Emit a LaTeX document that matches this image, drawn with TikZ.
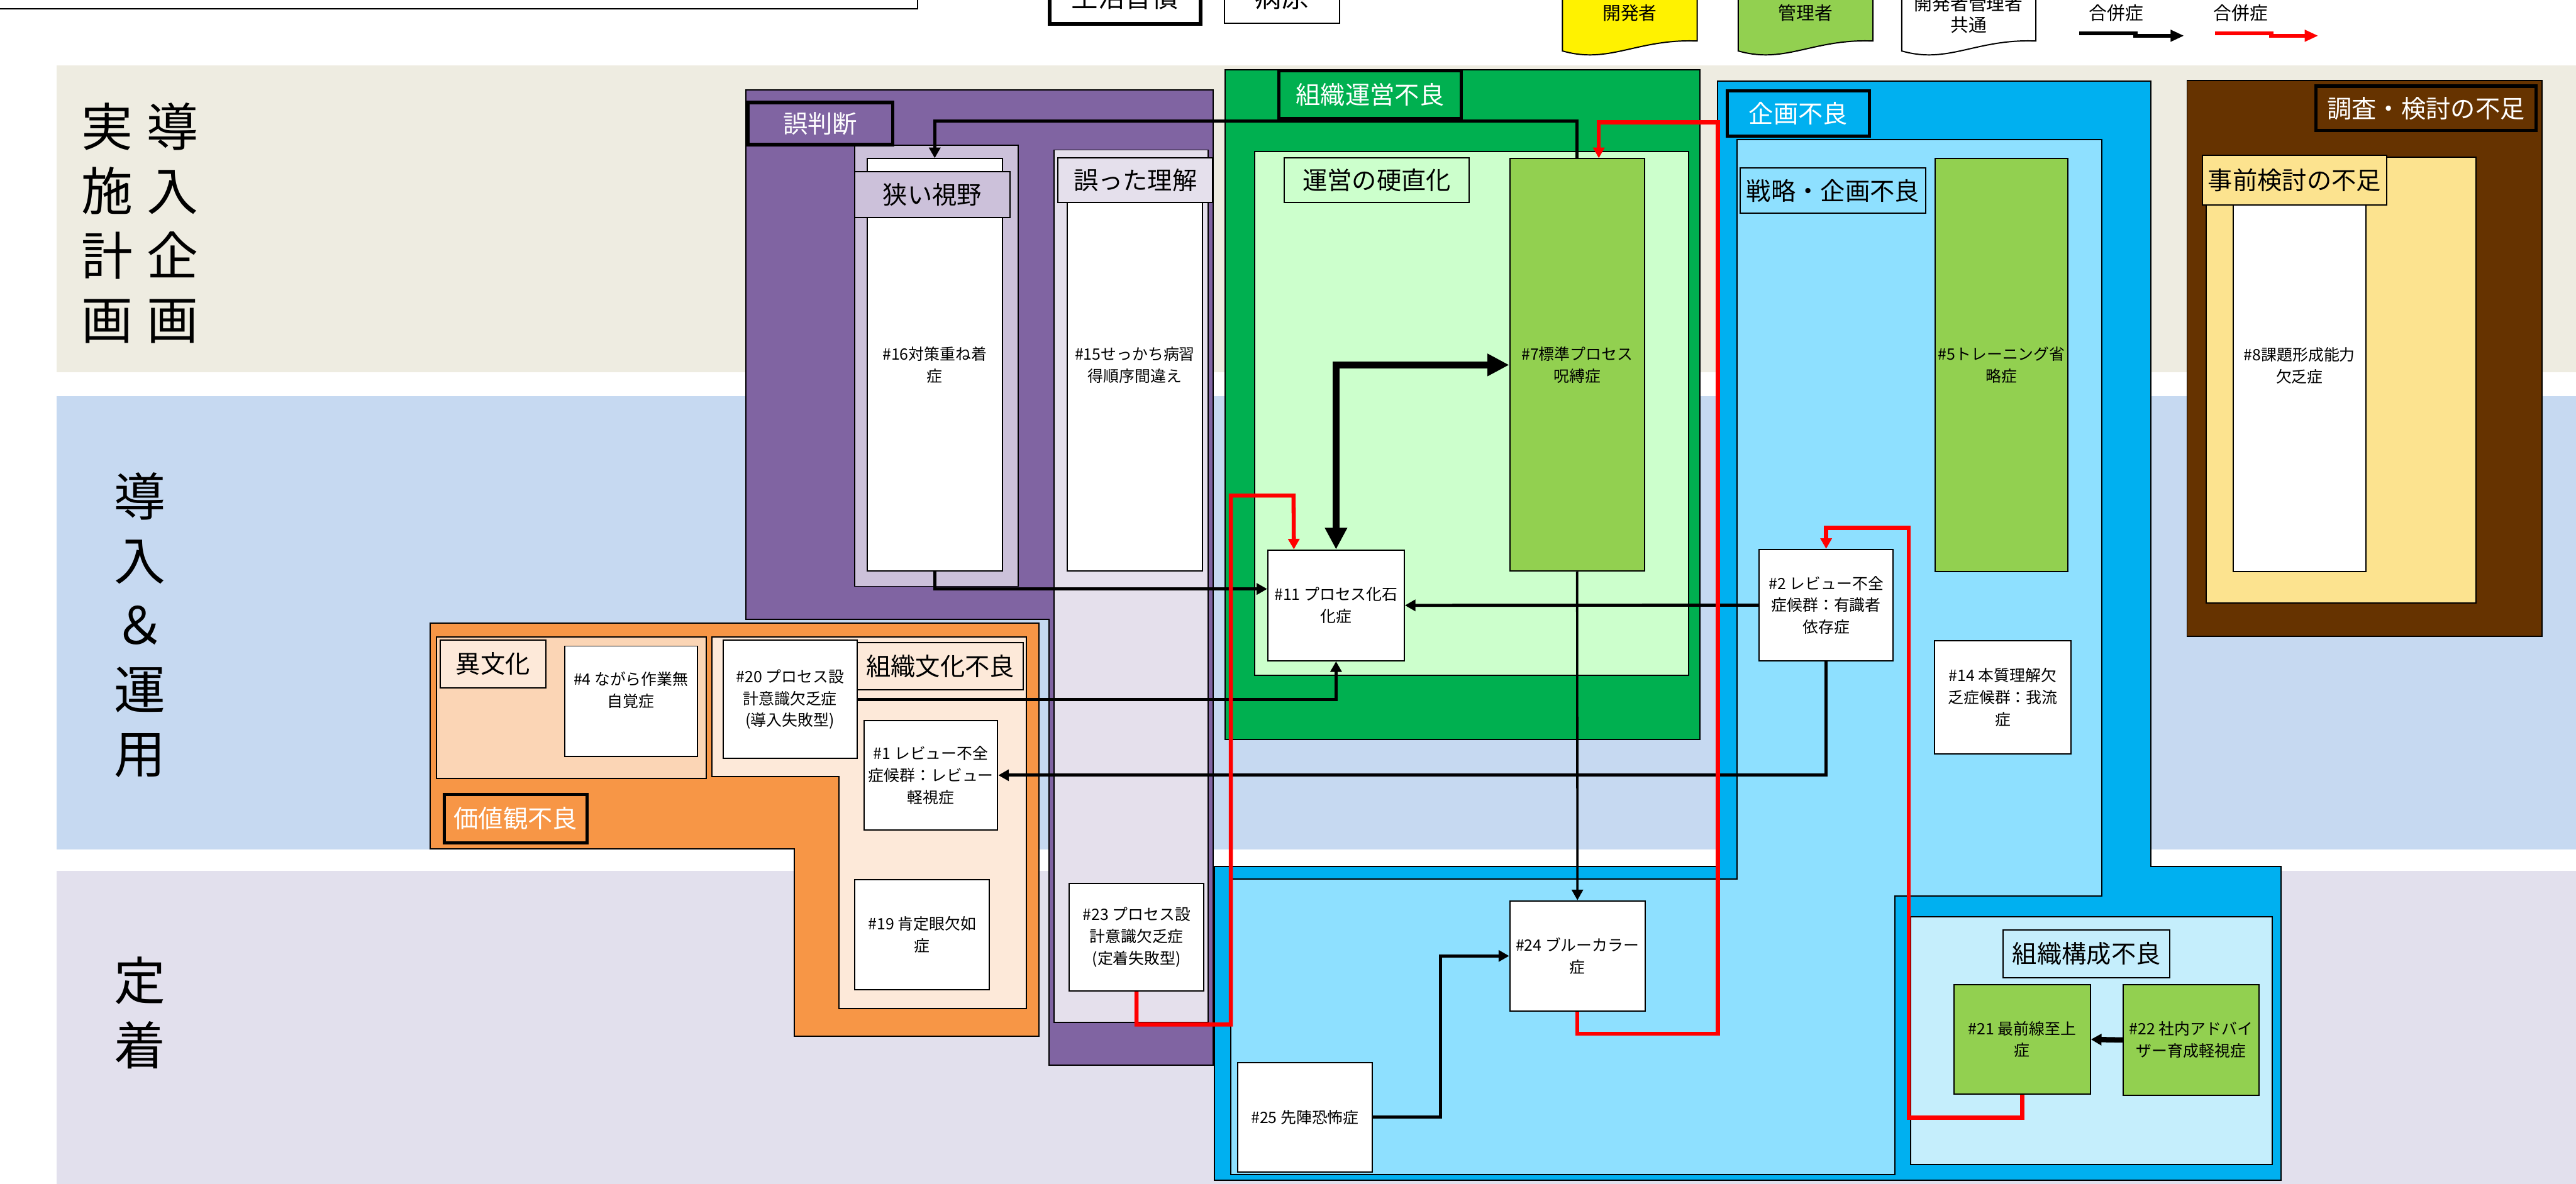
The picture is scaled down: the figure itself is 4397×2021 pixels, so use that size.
\documentclass[tikz,border=0pt]{standalone}
\usepackage{fontspec}
\setmainfont{Noto Sans CJK JP}
\usepackage{xcolor}
\usepackage{tikz}
\usetikzlibrary{arrows.meta, calc}

\definecolor{bandA}{HTML}{EEECE1}
\definecolor{bandB}{HTML}{C6D9F1}
\definecolor{bandC}{HTML}{E2E0ED}
\definecolor{misPurple}{HTML}{8064A2}
\definecolor{misLight}{HTML}{CCC1DA}
\definecolor{misPale}{HTML}{E5E0EC}
\definecolor{opGreen}{HTML}{00B050}
\definecolor{opPale}{HTML}{CCFFCC}
\definecolor{leaf}{HTML}{92D050}
\definecolor{plBlue}{HTML}{00B0F0}
\definecolor{plLight}{HTML}{8EE0FF}
\definecolor{plPale}{HTML}{C5EEFC}
\definecolor{rsBrown}{HTML}{663300}
\definecolor{rsYellow}{HTML}{FCE38F}
\definecolor{vaOrange}{HTML}{F79646}
\definecolor{vaPeach}{HTML}{FBD5B5}
\definecolor{vaPale}{HTML}{FDE9D9}

\newcommand\fBox{\fontsize{7.6}{10.6}\selectfont}
\newcommand\fTag{\fontsize{12}{14}\selectfont}
\newcommand\fRow{\fontsize{25}{31.3}\selectfont}
\newcommand\fLeg{\fontsize{8.8}{10.5}\selectfont}
\newcommand\fBig{\fontsize{13}{15}\selectfont}

\begin{document}
\begin{tikzpicture}[x=0.1mm, y=-0.1mm,
  symbox/.style={rectangle, draw, line width=0.6pt, fill=white, align=center, font=\fBox, inner sep=1pt},
  grouptag/.style={rectangle, draw, line width=0.6pt, align=center, font=\fTag, inner sep=0pt},
  headtag/.style={grouptag, line width=1.6pt, text=white},
  rowlab/.style={align=center, font=\fRow, inner sep=0pt},
  legtxt/.style={align=center, font=\fLeg, inner sep=0pt},
  conn/.style={-{Triangle[length=1.8mm, width=1.9mm]}, line width=1.5pt},
  redconn/.style={conn, red, line width=2pt},
  bigconn/.style={{Triangle[length=3.7mm, width=3.6mm]}-{Triangle[length=3.7mm, width=3.6mm]}, line width=3.2pt},
  legconn/.style={-{Triangle[length=2.3mm, width=1.9mm]}, line width=2pt}]
  \clip (0,0) rectangle (4397,2021);
  \fill[white] (0,0) rectangle (4397,2021);

  % legend strip (cut at the top)
  \draw[line width=0.8pt, fill=white] (-20,-50) rectangle (1566,15);
  \draw[line width=1.8pt, fill=white] (1792,-50) rectangle (2049,41);
  \node[legtxt, font=\fBig] (lglife) at (1920,-5) {生活習慣};
  \draw[line width=0.6pt, fill=white] (2090,-50) rectangle (2286,40);
  \node[legtxt, font=\fBig] (lgcause) at (2188,-5) {病原};
  \draw[line width=0.6pt, fill=yellow] (2667,-20) -- (2667,87) .. controls (2747.5,110) and (2793.5,66) .. (2897,70) -- (2897,-20);
  \node[legtxt] (lgdev) at (2782,22) {開発者};
  \draw[line width=0.6pt, fill=leaf] (2967,-20) -- (2967,87) .. controls (3047.5,110) and (3093.5,66) .. (3197,70) -- (3197,-20);
  \node[legtxt] (lgmgr) at (3082,22) {管理者};
  \draw[line width=0.6pt, fill=white] (3246,-20) -- (3246,87) .. controls (3326,110) and (3372,66) .. (3475,70) -- (3475,-20);
  \node[legtxt] (lgboth) at (3360,24) {開発者管理者\\共通};
  \node[legtxt] (lgblk) at (3612,22) {合併症};
  \node[legtxt] (lgred) at (3825,22) {合併症};
  \coordinate (lgk1) at (3549,57);
  \coordinate (lgk2) at (3728,61);
  \coordinate (lgr1) at (3781,57);
  \coordinate (lgr2) at (3957,61);
  \draw[legconn] (lgk1) -- ++(96,0) |- (lgk2);
  \draw[legconn, red] (lgr1) -- ++(96,0) |- (lgr2);

  % phase bands
  \fill[bandA] (97,112) rectangle (4397,635);
  \fill[bandB] (97,676) rectangle (4397,1450);
  \fill[bandC] (97,1487) rectangle (4397,2030);
  \node[rowlab] (rowplanA) at (295,381) {導\\入\\企\\画};
  \node[rowlab] (rowplanB) at (183,381) {実\\施\\計\\画};
  \node[rowlab] (rowrun) at (239,1067) {導\\入\\＆\\運\\用};
  \node[rowlab] (rowfix) at (239,1729) {定\\着};

  % 誤判断
  \draw[line width=0.6pt, fill=misPurple] (1273,154) -- (2071,154) -- (2071,1818) -- (1791,1818) -- (1791,1057) -- (1273,1057) -- cycle;
  \draw[line width=0.6pt, fill=misLight] (1459,248) rectangle (1738,1001);
  \draw[line width=0.6pt, fill=misPale] (1799,256) rectangle (2062,1745);
  \node[symbox, minimum width=23.1mm, minimum height=70.4mm] (s16) at (1595.5,623) {\#16対策重ね着\\症};
  \node[symbox, minimum width=23mm, minimum height=70.4mm] (s15) at (1937,623) {\#15せっかち病習\\得順序間違え};
  \node[symbox, minimum width=23mm, minimum height=18.4mm] (s23) at (1940,1600) {\#23 プロセス設\\計意識欠乏症\\(定着失敗型)};
  \node[headtag, fill=misPurple, minimum width=24.7mm, minimum height=7.2mm] (tmis) at (1400,211) {誤判断};
  \node[grouptag, fill=misLight, minimum width=26.5mm, minimum height=7.8mm] (tnarrow) at (1591.5,332) {狭い視野};
  \node[grouptag, fill=misPale, minimum width=26.4mm, minimum height=7.7mm] (twrong) at (1938,307.5) {誤った理解};

  % 組織運営不良
  \draw[line width=0.6pt, fill=opGreen] (2091,119) rectangle (2902,1262);
  \draw[line width=0.6pt, fill=opPale] (2142,259) rectangle (2882,1153);
  \node[headtag, fill=opGreen, minimum width=31.1mm, minimum height=8.1mm] (topr) at (2338.5,161.5) {組織運営不良};
  \node[grouptag, fill=opPale, minimum width=31.6mm, minimum height=7.7mm] (trigid) at (2350,307.5) {運営の硬直化};
  \node[symbox, fill=leaf, minimum width=23mm, minimum height=70.4mm] (s7) at (2692,623) {\#7標準プロセス\\呪縛症};
  \node[symbox, minimum width=23.3mm, minimum height=18.9mm] (s11) at (2280.5,1033.5) {\#11 プロセス化石\\化症};

  % 企画不良
  \draw[line width=0.6pt, fill=plBlue] (2932,138) -- (3671,138) -- (3671,1479) -- (3893,1479) -- (3893,2015) -- (2073,2015) -- (2073,1479) -- (2932,1479) -- cycle;
  \draw[line width=0.6pt, fill=plLight] (2965,238) -- (3588,238) -- (3588,1530) -- (3234,1530) -- (3234,2005) -- (2101,2005) -- (2101,1501) -- (2965,1501) -- cycle;
  \draw[line width=0.6pt, fill=plPale] (3261,1565) rectangle (3878,1988);
  \node[headtag, fill=plBlue, minimum width=24.3mm, minimum height=7.7mm] (tplan) at (3069.5,193.5) {企画不良};
  \node[grouptag, fill=plLight, minimum width=31.7mm, minimum height=7.7mm] (tstrat) at (3128.5,325.5) {戦略・企画不良};
  \node[symbox, fill=leaf, minimum width=22.7mm, minimum height=70.5mm] (s5) at (3416.5,623.5) {\#5トレーニング省\\略症};
  \node[symbox, minimum width=22.8mm, minimum height=19mm] (s2) at (3117,1033) {\#2 レビュー不全\\症候群：有識者\\依存症};
  \node[symbox, minimum width=23.3mm, minimum height=19.3mm] (s14) at (3418.5,1190.5) {\#14 本質理解欠\\乏症候群：我流\\症};
  \node[symbox, minimum width=23.1mm, minimum height=18.8mm] (s24) at (2692.5,1632) {\#24 ブルーカラー\\症};
  \node[symbox, minimum width=22.9mm, minimum height=18.7mm] (s25) at (2227.5,1907.5) {\#25 先陣恐怖症};
  \node[grouptag, fill=plPale, minimum width=28.5mm, minimum height=8.1mm] (tstruct) at (3561.5,1628.5) {組織構成不良};
  \node[symbox, fill=leaf, minimum width=23.3mm, minimum height=18.7mm] (s21) at (3451.5,1774.5) {\#21 最前線至上\\症};
  \node[symbox, fill=leaf, minimum width=23.2mm, minimum height=18.9mm] (s22) at (3740,1775.5) {\#22 社内アドバイ\\ザー育成軽視症};

  % 調査・検討の不足
  \draw[line width=0.6pt, fill=rsBrown] (3733,137) rectangle (4339,1086);
  \draw[line width=0.6pt, fill=rsYellow] (3766,268) rectangle (4226,1029);
  \node[headtag, fill=rsBrown, minimum width=37.6mm, minimum height=7.6mm] (tres) at (4141,185) {調査・検討の不足};
  \node[symbox, minimum width=22.6mm, minimum height=70.4mm] (s8) at (3925,624) {\#8課題形成能力\\欠乏症};
  \node[grouptag, fill=rsYellow, minimum width=31.5mm, minimum height=8.5mm] (tpre) at (3916.5,307.5) {事前検討の不足};

  % 価値観不良
  \draw[line width=0.6pt, fill=vaOrange] (734,1064) -- (1773,1064) -- (1773,1769) -- (1356,1769) -- (1356,1449) -- (734,1449) -- cycle;
  \draw[line width=0.6pt, fill=vaPeach] (745,1087) rectangle (1206,1329);
  \draw[line width=0.6pt, fill=vaPale] (1215,1087) -- (1752,1087) -- (1752,1722) -- (1432,1722) -- (1432,1326) -- (1215,1326) -- cycle;
  \node[grouptag, fill=vaPale, minimum width=18.1mm, minimum height=8.1mm] (tforeign) at (841.5,1133.5) {異文化};
  \node[symbox, minimum width=22.6mm, minimum height=18.8mm] (s4) at (1077,1197) {\#4 ながら作業無\\自覚症\\\phantom{症}};
  \node[grouptag, fill=vaPale, minimum width=28.4mm, minimum height=8.1mm] (tculture) at (1605,1137.5) {組織文化不良};
  \node[symbox, minimum width=22.9mm, minimum height=20.2mm] (s20) at (1348.5,1194) {\#20 プロセス設\\計意識欠乏症\\(導入失敗型)};
  \node[symbox, minimum width=22.8mm, minimum height=18.7mm] (s1) at (1589,1323.5) {\#1 レビュー不全\\症候群：レビュー\\軽視症};
  \node[symbox, minimum width=23mm, minimum height=18.8mm] (s19) at (1574,1596) {\#19 肯定眼欠如\\症};
  \node[headtag, fill=vaOrange, minimum width=24.4mm, minimum height=8.3mm] (tvalue) at (880,1397.5) {価値観不良};

  % black links
  \draw[conn] (s7.north) -- ++(0,-63) -| (s16.north);
  \draw[conn] (s16.south) |- ($(s11.west)+(0,-28)$);
  \draw[conn] (s20.east) -| (s11.south);
  \draw[conn] (s2.west) -- (s11.east);
  \draw[conn] (s2.south) |- (s1.east);
  \draw[conn, line width=1.1pt] (s7.south) -- (s24.north);
  \draw[bigconn] (s11.north) |- (s7.west);
  \draw[conn] (s25.east) -- ++(116,0) |- (s24.west);
  \draw[conn, line width=2.6pt] (s22.west) -- (s21.east);

  % red links
  \draw[redconn] (s23.south) |- (2101,1749) |- (2208,846) -- ($(s11.north)+(-72,0)$);
  \draw[redconn] (s24.south) |- (2932,1765) -- (2932,209) -| ($(s7.north)+(37,0)$);
  \draw[redconn] (s21.south) |- (3258,1908) -- (3258,901) -| (s2.north);
\end{tikzpicture}
\end{document}
